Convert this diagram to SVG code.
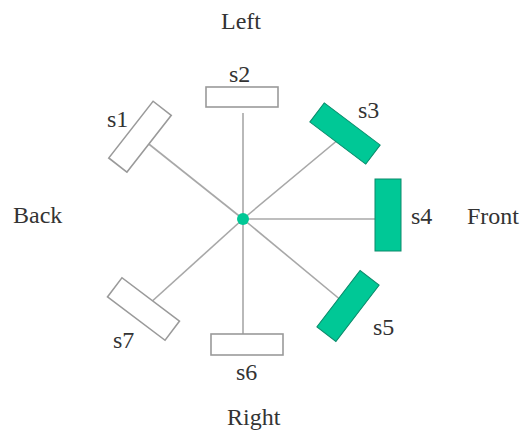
<svg xmlns="http://www.w3.org/2000/svg" width="525" height="434" viewBox="0 0 525 434">
<style>
.lbl{font-family:"Liberation Serif","Times New Roman",serif;font-size:24px;fill:#333}
.w{fill:#fff;stroke:#9a9a9a;stroke-width:1.6}
.g{fill:#00c896;stroke:#0a8a6a;stroke-width:1}
.c{stroke:#a8a8a8;stroke-width:1.6;fill:none}
</style>
<rect width="525" height="434" fill="#fff"/>
<g id="connectors">
<line class="c" x1="243" y1="219" x2="140" y2="137"/>
<line class="c" x1="243" y1="219" x2="243" y2="113"/>
<line class="c" x1="243" y1="219" x2="345" y2="134"/>
<line class="c" x1="243" y1="219" x2="380" y2="219"/>
<line class="c" x1="243" y1="219" x2="348" y2="306"/>
<line class="c" x1="243" y1="219" x2="243" y2="334"/>
<line class="c" x1="243" y1="219" x2="143.5" y2="309"/>
</g>
<g id="s1"><rect class="w" x="-36" y="-11.5" width="72" height="23" transform="translate(140 136.7) rotate(-52)"/><text class="lbl" x="107" y="127">s1</text></g>
<g id="s2"><rect class="w" x="206" y="87" width="72" height="20"/><text class="lbl" x="229" y="82">s2</text></g>
<g id="s3"><rect class="g" x="-35" y="-12" width="70" height="24" transform="translate(345 133.5) rotate(37)"/><text class="lbl" x="358" y="118">s3</text></g>
<g id="s4"><rect class="g" x="375" y="179" width="26" height="72"/><text class="lbl" x="411" y="224">s4</text></g>
<g id="s5"><rect class="g" x="-35.5" y="-12" width="71" height="24" transform="translate(348 306) rotate(-52.5)"/><text class="lbl" x="373" y="335">s5</text></g>
<g id="s6"><rect class="w" x="211" y="334" width="72" height="21"/><text class="lbl" x="236" y="380">s6</text></g>
<g id="s7"><rect class="w" x="-36" y="-12" width="72" height="24" transform="translate(143.5 309) rotate(37)"/><text class="lbl" x="113" y="348">s7</text></g>
<g id="hub"><circle cx="243" cy="219" r="6" fill="#00c896"/></g>
<g id="labels">
<text class="lbl" x="221" y="29">Left</text>
<text class="lbl" x="13" y="223">Back</text>
<text class="lbl" x="467" y="224">Front</text>
<text class="lbl" x="227" y="425">Right</text>
</g>
</svg>
